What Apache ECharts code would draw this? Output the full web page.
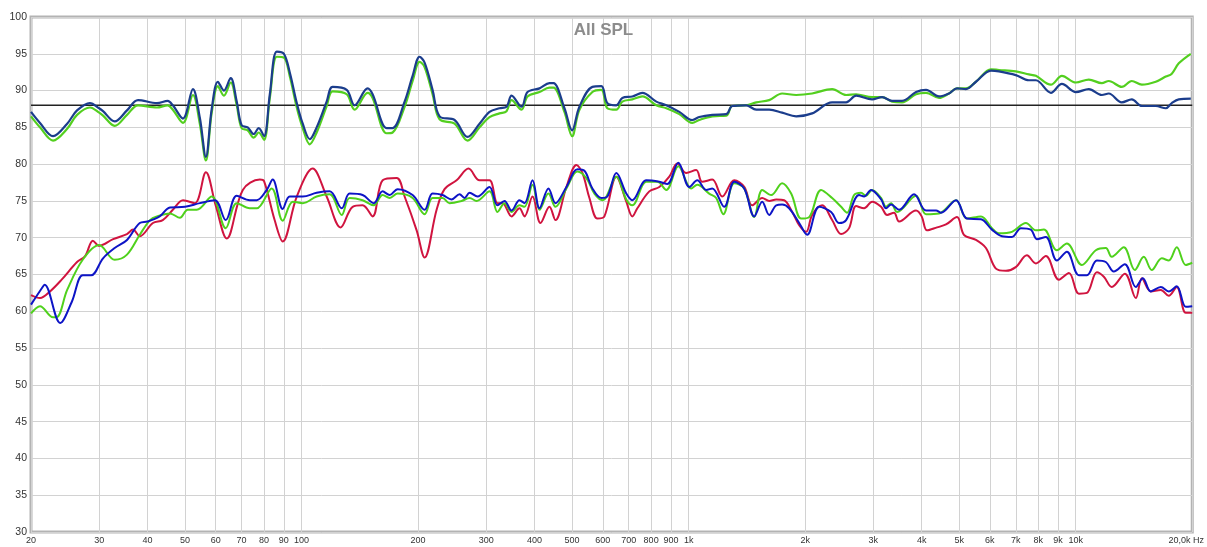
<!DOCTYPE html>
<html>
<head>
<meta charset="utf-8">
<title>All SPL</title>
<script src="https://cdn.jsdelivr.net/npm/echarts@6/dist/echarts.min.js"></script>
<style>
  html, body { margin: 0; padding: 0; background: #fff; }
  #chart { width: 1207px; height: 547px; }
</style>
</head>
<body>
<div id="chart"></div>
<script>
// Frequency ticks (Hz) and their labels
const freqTicks = [20, 30, 40, 50, 60, 70, 80, 90, 100, 200, 300, 400, 500, 600, 700, 800, 900,
  1000, 2000, 3000, 4000, 5000, 6000, 7000, 8000, 9000, 10000, 20000];
const freqTickLabels = ['20', '30', '40', '50', '60', '70', '80', '90', '100', '200', '300', '400', '500',
  '600', '700', '800', '900', '1k', '2k', '3k', '4k', '5k', '6k', '7k', '8k', '9k', '10k', '20,0k Hz'];

// Target level (dB)
const referenceLevel = 88;

// Upper pair of responses: [Hz, dB]
const upperNavy = [
  [20, 87.1], [21.1, 85.6], [22.8, 83.8], [24.8, 85.5], [26.3, 87.3], [28.4, 88.3], [30, 87.6], [30.7, 87.2],
  [32.9, 85.8], [35.4, 87.3], [37.8, 88.7], [42.3, 88.3], [45.1, 88.6], [46.5, 88.0], [49.4, 86.2],
  [52.4, 90.2], [54.6, 86.3], [56.6, 81.0], [58.6, 87.5], [60.8, 91.2], [63.0, 90.0], [65.6, 91.7],
  [68.0, 88.5], [70, 85.3], [72.6, 85.0], [75.2, 84.1], [77.5, 84.9], [80, 83.8], [82.8, 89.5],
  [86.3, 95.3], [90, 95.0], [93.2, 92.5], [97.2, 88.3], [100.7, 85.5], [105, 83.4], [109.4, 85.0],
  [116.1, 88.5], [120.3, 90.5], [130.8, 90.1], [137.1, 88.0], [148.2, 90.3], [152.6, 89.5],
  [165.9, 84.9], [171.9, 84.9], [184.6, 88.5], [193.6, 92.0], [201.8, 94.6], [207.9, 93.8], [218, 90.1],
  [227.3, 86.5], [248.5, 86.0], [268.4, 83.7], [288.3, 85.5], [305.9, 87.1], [324.6, 87.6],
  [338.5, 87.8], [348.7, 89.3], [370.1, 87.8], [383.5, 89.8], [411.8, 90.3], [437, 91.0], [447.5, 91.0],
  [477.7, 87.6], [500, 84.6], [522.2, 87.8], [564.1, 90.5], [595, 90.6], [616.6, 88.3], [650.5, 88.0],
  [674.1, 89.0], [715.3, 89.2], [759.3, 89.7], [825.1, 88.5], [875.6, 88.0], [946, 87.1], [1022, 86.0],
  [1065, 86.4], [1151, 86.7], [1251, 86.8], [1296, 87.9], [1409, 88.0], [1495, 87.4], [1615, 87.4],
  [1744, 87.0], [1896, 86.5], [2085, 86.9], [2348, 88.4], [2552, 88.4], [2708, 89.3], [2978, 88.8],
  [3161, 89.1], [3354, 88.6], [3559, 88.6], [3868, 89.8], [4105, 90.1], [4435, 89.2], [4705, 89.6],
  [4935, 90.3], [5205, 90.2], [5525, 91.2], [6039, 92.7], [6333, 92.6], [7000, 92.1], [7570, 91.4],
  [7891, 91.4], [8626, 89.7], [9211, 90.9], [10010, 89.8], [10810, 90.2], [11680, 89.4], [12170, 89.6],
  [13150, 88.4], [13960, 88.8], [14820, 87.9], [16100, 87.9], [17090, 87.6], [17710, 88.3],
  [18460, 88.8], [19830, 88.9]
];

const upperGreen = [
  [20, 86.5], [21.1, 85.0], [22.8, 83.2], [24.8, 84.8], [26.3, 86.7], [28.4, 87.7], [30, 87.0], [30.7, 86.6],
  [32.9, 85.2], [35.4, 86.7], [37.8, 88.0], [42.3, 87.7], [45.1, 88.0], [46.5, 87.4], [49.4, 85.6],
  [52.4, 89.4], [54.6, 85.5], [56.6, 80.5], [58.6, 87.0], [60.8, 90.6], [63.0, 89.3], [65.6, 91.1],
  [68.0, 88.0], [70, 84.9], [72.6, 84.6], [75.2, 83.6], [77.5, 84.3], [80, 83.3], [82.8, 89.0],
  [86.3, 94.6], [90, 94.5], [93.2, 92.0], [97.2, 87.7], [100.7, 84.9], [105, 82.7], [109.4, 84.3],
  [116.1, 87.9], [120.3, 89.9], [130.8, 89.5], [137.1, 87.4], [148.2, 89.7], [152.6, 89.0],
  [165.9, 84.2], [171.9, 84.3], [184.6, 87.8], [193.6, 91.3], [201.8, 93.9], [207.9, 93.2], [218, 89.5],
  [227.3, 86.1], [248.5, 85.5], [268.4, 83.2], [288.3, 85.0], [305.9, 86.4], [324.6, 86.9],
  [338.5, 87.2], [348.7, 88.7], [370.1, 87.4], [383.5, 89.2], [411.8, 89.8], [437, 90.4], [447.5, 90.4],
  [477.7, 87.1], [500, 83.8], [522.2, 87.4], [564.1, 89.8], [595, 90.1], [616.6, 87.6], [650.5, 87.4],
  [674.1, 88.5], [715.3, 88.8], [759.3, 89.2], [825.1, 88.0], [875.6, 87.6], [946, 86.8], [1022, 85.6],
  [1065, 86.0], [1151, 86.5], [1251, 86.6], [1296, 87.9], [1409, 88.0], [1495, 88.4], [1615, 88.7],
  [1744, 89.6], [1896, 89.4], [2085, 89.6], [2348, 90.2], [2552, 89.4], [2708, 89.5], [2978, 89.1],
  [3161, 89.1], [3354, 88.5], [3559, 88.4], [3868, 89.5], [4105, 89.7], [4435, 89.0], [4705, 89.6],
  [4935, 90.3], [5205, 90.3], [5525, 91.2], [6039, 92.9], [6333, 92.8], [7000, 92.6], [7570, 92.2],
  [7891, 92.0], [8626, 90.8], [9211, 92.0], [10010, 91.1], [10810, 91.5], [11680, 91.0], [12170, 91.3],
  [13150, 90.5], [13960, 91.3], [14820, 90.8], [16100, 91.2], [17090, 91.9], [17710, 92.3],
  [18460, 93.7], [19830, 95.0]
];

// Lower group of responses: [Hz, dB]
const lowerRed = [
  [20, 62.2], [21.1, 61.8], [22.4, 62.7], [24.0, 64.3], [26.3, 66.7], [27.6, 67.5], [28.9, 69.6], [30, 68.9],
  [32.6, 69.8], [35.4, 70.5], [36.7, 71.1], [38.2, 70.2], [41.3, 72.0], [43.8, 72.4], [46.5, 73.8],
  [49.4, 75.1], [53.0, 74.7], [56.6, 78.9], [60, 74.4], [64.1, 69.9], [70.5, 76.5], [78.0, 77.9],
  [80, 77.7], [85.2, 72.4], [89.4, 69.5], [97.2, 75.6], [106.8, 79.4], [116.1, 75.6], [126.2, 71.4],
  [135.5, 74.2], [143.8, 74.4], [152.6, 72.9], [162, 77.8], [176.1, 78.1], [184.6, 75.6], [198.3, 71.0],
  [207.9, 67.3], [223.3, 73.8], [234.1, 76.6], [251.5, 77.8], [270, 79.4], [288.3, 77.8], [305.9, 77.8],
  [320.8, 74.7], [330.5, 74.7], [348.7, 72.9], [365.6, 74.0], [376.7, 72.9], [395.1, 75.6], [414.2, 72.0],
  [437, 74.2], [452.8, 72.4], [483.4, 76.9], [512.9, 79.9], [531.6, 78.8], [554.2, 75.4], [581.1, 72.6],
  [605.8, 72.9], [650.5, 78.3], [690.2, 74.9], [715.3, 72.9], [737, 74.0], [791.4, 76.3], [839.9, 76.9],
  [891.3, 78.3], [934.8, 80.1], [986, 78.8], [1046, 79.2], [1084, 77.6], [1151, 77.9], [1221, 75.6],
  [1312, 77.8], [1392, 76.9], [1460, 74.4], [1549, 75.4], [1615, 75.0], [1684, 75.2], [1765, 75.1],
  [1852, 73.5], [1930, 71.7], [2012, 70.8], [2085, 73.1], [2213, 74.4], [2348, 72.4], [2477, 70.5],
  [2597, 71.3], [2708, 74.3], [2840, 74.0], [2978, 74.9], [3142, 74.2], [3256, 73.1], [3394, 73.4],
  [3497, 72.2], [3868, 73.7], [4000, 72.9], [4129, 71.0], [4382, 71.4], [4623, 71.8], [4935, 72.8],
  [5143, 70.4], [5525, 69.7], [5862, 68.6], [6221, 65.8], [6603, 65.5], [7000, 66.0], [7480, 67.6],
  [7891, 66.5], [8373, 67.5], [9049, 64.3], [9603, 65.2], [10190, 62.4], [10690, 62.5], [11340, 65.3],
  [11820, 64.7], [12390, 63.3], [13390, 65.1], [14300, 61.8], [14820, 64.5], [15630, 62.7],
  [16590, 62.9], [17390, 62.1], [18240, 63.3], [19240, 59.8], [20000, 59.8]
];

const lowerBlue = [
  [20, 60.9], [21.5, 63.4], [21.7, 63.6], [23.8, 58.4], [25.5, 61.3], [27.2, 64.9], [28.6, 64.9],
  [30.7, 67.2], [32.9, 68.6], [35.4, 69.7], [38.2, 72.0], [40, 72.2], [43.0, 72.9], [45.7, 74.1],
  [50, 74.2], [54.6, 74.7], [59.7, 75.1], [63.7, 72.4], [68.0, 75.7], [73.5, 75.1], [76.6, 75.1],
  [81.3, 76.5], [84.2, 77.9], [89.4, 73.9], [93.2, 75.6], [100.7, 75.6], [109.4, 76.1], [118.2, 76.3],
  [127, 74.0], [133.1, 76.0], [143.8, 75.8], [153.6, 74.7], [162, 76.3], [168.9, 75.8], [177.1, 76.6],
  [193.6, 75.8], [207.9, 73.8], [218, 76.0], [231.3, 75.8], [244.1, 75.2], [256, 75.9], [263.6, 75.4],
  [271.7, 76.1], [284.8, 75.6], [305.9, 76.9], [320.8, 74.4], [334.4, 75.0], [348.7, 73.7],
  [365.6, 75.1], [376.7, 74.7], [395.1, 77.8], [411.8, 74.0], [434.4, 76.7], [452.8, 74.7],
  [483.4, 76.9], [516, 79.3], [537.9, 79.1], [564.1, 76.7], [595, 75.4], [616.6, 75.6], [650.5, 78.8],
  [690.2, 76.0], [715.3, 75.1], [777.5, 77.8], [839.9, 77.6], [880.8, 77.3], [940.5, 80.2], [1004, 76.9],
  [1053, 77.8], [1110, 76.5], [1151, 76.7], [1236, 74.2], [1312, 77.6], [1392, 76.7], [1477, 72.9],
  [1549, 74.9], [1615, 73.1], [1684, 74.4], [1744, 74.5], [1818, 74.0], [1930, 72.0], [2024, 70.4],
  [2173, 74.2], [2334, 73.5], [2447, 72.0], [2552, 72.4], [2756, 75.8], [2840, 75.6], [2960, 76.5],
  [3142, 75.2], [3236, 74.0], [3334, 74.5], [3497, 73.8], [3822, 75.9], [4105, 73.7], [4356, 73.7],
  [4487, 73.4], [4906, 75.1], [5236, 72.6], [5692, 72.5], [6075, 71.1], [6448, 70.2], [6843, 70.1],
  [7218, 71.3], [7660, 71.1], [7938, 69.8], [8373, 70.1], [8941, 66.9], [9489, 68.1], [10190, 64.9],
  [10690, 64.9], [11340, 66.9], [11960, 66.7], [12540, 65.4], [13390, 66.4], [14300, 63.3],
  [14910, 64.5], [15630, 62.7], [16590, 63.3], [17390, 62.7], [18240, 63.4], [19240, 60.6], [20000, 60.7]
];

const lowerGreen = [
  [20, 59.7], [21.1, 60.7], [22.8, 59.2], [23.3, 59.2], [24.8, 62.9], [27.2, 67.0], [30, 69.0],
  [32.9, 67.0], [35.4, 67.7], [38.2, 70.4], [40.6, 72.4], [42.3, 72.9], [45.7, 73.3], [48.5, 72.7],
  [50.8, 73.8], [53.6, 73.8], [58.6, 75.6], [63.7, 71.3], [68.0, 74.7], [73.5, 74.0], [76.6, 74.0],
  [83.7, 76.7], [89.4, 72.3], [94.9, 74.9], [100.7, 74.7], [109.4, 75.6], [118.2, 75.9], [127, 73.1],
  [133.1, 75.4], [143.8, 75.1], [153.6, 74.4], [162, 75.8], [168.9, 75.4], [177.1, 76.0], [193.6, 75.4],
  [207.9, 73.2], [218, 75.4], [231.3, 75.4], [241.2, 74.7], [259.1, 75.0], [271.7, 75.4], [283.1, 75.0],
  [305.9, 76.3], [320.8, 73.5], [334.4, 74.7], [348.7, 73.5], [365.6, 74.4], [376.7, 74.2],
  [395.1, 77.2], [411.8, 73.8], [434.4, 76.0], [452.8, 74.2], [483.4, 76.7], [516, 79.0], [544.3, 78.1],
  [570.9, 76.0], [600, 75.1], [650.5, 78.3], [690.2, 75.2], [715.3, 74.4], [777.5, 77.6], [830.1, 77.6],
  [875.6, 76.5], [940.5, 79.7], [1016, 76.7], [1053, 77.2], [1130, 76.0], [1178, 75.4], [1229, 73.2],
  [1312, 77.4], [1392, 76.7], [1477, 72.8], [1549, 76.5], [1634, 75.8], [1744, 77.4], [1840, 76.0],
  [1953, 72.6], [2048, 72.8], [2199, 76.5], [2348, 75.4], [2477, 74.2], [2567, 73.4], [2676, 75.8],
  [2789, 76.1], [2873, 75.7], [2978, 76.5], [3142, 75.4], [3236, 74.2], [3334, 74.7], [3455, 73.5],
  [3868, 75.7], [4105, 73.2], [4435, 73.3], [4906, 75.1], [5236, 72.6], [5692, 72.9], [6075, 71.3],
  [6333, 70.6], [6843, 70.8], [7435, 72.0], [7891, 71.0], [8274, 71.1], [8941, 68.3], [9489, 69.2],
  [10370, 66.3], [11270, 68.3], [11960, 68.6], [12390, 67.4], [13310, 68.7], [14210, 65.6],
  [14990, 67.4], [15720, 65.6], [16690, 67.2], [17390, 66.9], [18240, 68.7], [19240, 66.3], [20000, 66.6]
];

// The x axis is a value axis over log10(frequency)
const toLog = pts => pts.map(p => [Math.log10(p[0]), p[1]]);
const fMin = freqTicks[0];
const fMax = freqTicks[freqTicks.length - 1];
const tickLogs = freqTicks.map(f => Math.log10(f));

function tickLabel(v) {
  let best = 0, bestD = Infinity;
  tickLogs.forEach((t, i) => {
    const d = Math.abs(t - v);
    if (d < bestD) { bestD = d; best = i; }
  });
  const txt = freqTickLabels[best];
  return best === freqTickLabels.length - 1 ? '{end|' + txt + '}' : txt;
}

function curve(name, pts, color, width, z) {
  return {
    name: name,
    type: 'line',
    data: toLog(pts),
    smooth: 0.35,
    showSymbol: false,
    z: z,
    lineStyle: { color: color, width: width },
    emphasis: { disabled: true }
  };
}

const chart = echarts.init(document.getElementById('chart'), null, { renderer: 'canvas' });

chart.setOption({
  animation: false,
  backgroundColor: '#ffffff',
  title: {
    text: 'All SPL',
    left: 'center',
    top: 17,
    textStyle: { color: '#8c8c8c', fontSize: 17, fontWeight: 'bold', fontFamily: 'Liberation Sans, Arial, sans-serif' }
  },
  grid: {
    left: 31, right: 14, top: 17, bottom: 15,
    show: true,
    borderColor: '#b3b3b3',
    borderWidth: 3,
    containLabel: false
  },
  xAxis: {
    type: 'value',
    min: Math.log10(fMin),
    max: Math.log10(fMax),
    axisLine: { show: false },
    axisTick: { show: false, customValues: tickLogs },
    splitLine: { show: true, lineStyle: { color: '#d2d2d2', width: 1 } },
    axisLabel: {
      customValues: tickLogs,
      formatter: tickLabel,
      color: '#333',
      fontSize: 9,
      fontFamily: 'Liberation Sans, Arial, sans-serif',
      margin: 4,
      rich: {
        end: { fontSize: 9, color: '#333', fontFamily: 'Liberation Sans, Arial, sans-serif', padding: [0, 12, 0, 0] }
      }
    }
  },
  yAxis: {
    type: 'value',
    min: 30,
    max: 100,
    interval: 5,
    axisLine: { show: false },
    axisTick: { show: false },
    splitLine: { show: true, lineStyle: { color: '#d2d2d2', width: 1 } },
    axisLabel: {
      color: '#333',
      fontSize: 10.5,
      fontFamily: 'Liberation Sans, Arial, sans-serif',
      margin: 4
    }
  },
  series: [
    curve('Lower red', lowerRed, '#d0143f', 2, 3),
    curve('Lower green', lowerGreen, '#4fd11c', 2, 4),
    curve('Lower blue', lowerBlue, '#0d14c6', 2, 5),
    {
      name: 'Reference',
      type: 'line',
      data: [[Math.log10(fMin), referenceLevel], [Math.log10(fMax), referenceLevel]],
      showSymbol: false,
      z: 6,
      lineStyle: { color: '#222222', width: 1.6 },
      emphasis: { disabled: true }
    },
    curve('Upper green', upperGreen, '#53cf1f', 2.2, 7),
    curve('Upper navy', upperNavy, '#1b3d8c', 2.2, 8)
  ]
});
</script>
</body>
</html>
